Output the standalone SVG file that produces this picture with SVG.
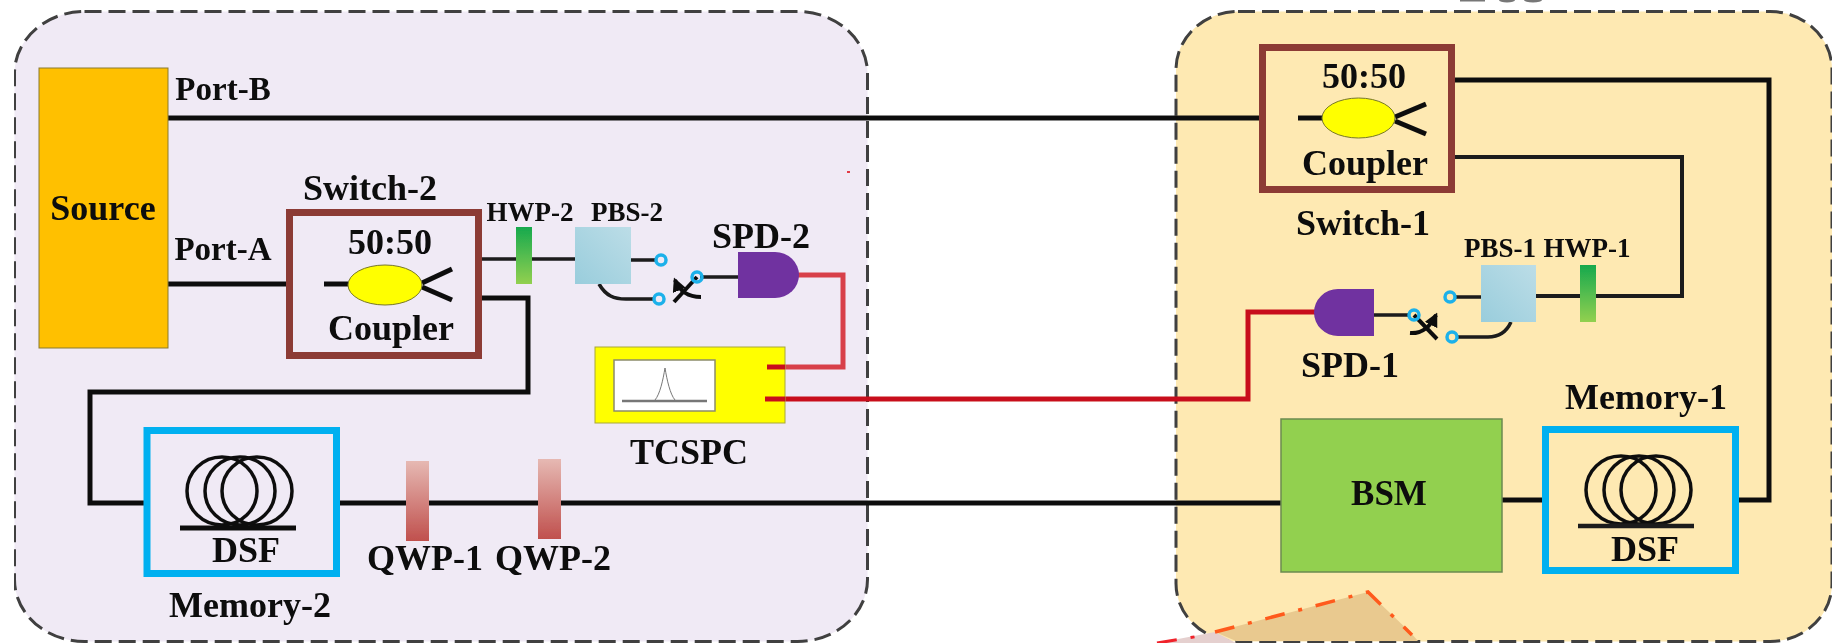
<svg xmlns="http://www.w3.org/2000/svg" width="1834" height="643" viewBox="0 0 1834 643">
<style>
text{font-family:"Liberation Serif","Times New Roman",serif;font-weight:bold;fill:#0a0a0a;font-size:36px;text-anchor:middle}
.s{font-size:27px}
.region{stroke:#3f3f3f;stroke-width:3;stroke-dasharray:17 7}
.fib{fill:none;stroke:#111;stroke-width:5;stroke-linejoin:miter}
.fin{fill:none;stroke:#1a1a1a;stroke-width:3.5}
.x{fill:none;stroke:#111;stroke-width:4}
.red{fill:none;stroke:#c8101a;stroke-width:5}
.sw{fill:none;stroke:#8c3a36;stroke-width:7}
.mem{fill:none;stroke:#00b0f0;stroke-width:7}
.coil{fill:none;stroke:#111;stroke-width:3.5}
.port{fill:none;stroke:#1fb1ea;stroke-width:3.5}
.hwp{fill:url(#gh)}
.qwp{fill:url(#gq)}
.pbs{fill:url(#gp)}
.spd{fill:#7030a0}
.cp{fill:#ffff00;stroke:#a8a838;stroke-width:1}
</style>
<defs>
<linearGradient id="gh" x1="0" y1="0" x2="0" y2="1"><stop offset="0" stop-color="#16a94e"/><stop offset="1" stop-color="#92d050"/></linearGradient>
<linearGradient id="gq" x1="0" y1="0" x2="0" y2="1"><stop offset="0" stop-color="#e6b9b3"/><stop offset="1" stop-color="#c0504d"/></linearGradient>
<linearGradient id="gp" x1="0" y1="1" x2="1" y2="0"><stop offset="0" stop-color="#99cddc"/><stop offset="1" stop-color="#bcdde7"/></linearGradient>
<marker id="ah" viewBox="0 0 10 10" refX="8" refY="5" markerWidth="3.500" markerHeight="3.500" orient="auto-start-reverse"><path d="M0 0L10 5L0 10Z" fill="#111"/></marker>
<filter id="soft" x="0" y="0" width="100%" height="100%"><feGaussianBlur stdDeviation="0.7"/></filter>
</defs>
<rect width="1834" height="643" fill="#fff"/>
<g filter="url(#soft)">
<g id="clipped-title" fill="#777"><rect x="1460" y="0" width="25" height="1.500"/><ellipse cx="1507" cy="0" rx="8" ry="2.500"/><ellipse cx="1533" cy="0" rx="9" ry="2.500"/></g>
<g id="region-left"><rect class="region" x="14.5" y="11.5" width="853" height="630" rx="70" ry="62" fill="#f0eaf5"/></g>
<g id="region-right"><rect class="region" x="1176" y="11.5" width="656" height="630" rx="62" ry="58" fill="#fee9b2"/></g>
<g id="region-link">
<polygon points="1157,643 1215,632 1236,643" fill="#e5d0cf"/>
<polygon points="1215,632 1368,592 1411,633 1418,641 1236,641" fill="#e9c98f"/>
<path d="M1215 632L1368 592L1412 635" fill="none" stroke="#ff5a1c" stroke-width="3.5" stroke-dasharray="20 14 4 14"/>
<path d="M1157 643L1200 636" fill="none" stroke="#f0202a" stroke-width="3" stroke-dasharray="20 14 4 14"/>
<rect x="847" y="171" width="3" height="2" fill="#e23a44"/>
</g>
<g id="connectors">
<path class="fib" d="M168 118H1259"/>
<path class="fib" d="M168 284H286"/>
<path class="fib" d="M482 298H528V392H90V503H144"/>
<path class="fib" d="M340 503H1281"/>
<path class="fib" d="M1502 500H1546"/>
<path class="fib" d="M1455 80H1769V500H1735"/>
<path class="fin" d="M1455 157H1682V296H1536" style="stroke-width:4"/>
<path class="fin" d="M482 259H575"/>
<path class="fin" d="M631 260H657"/>
<path class="fin" d="M599 284C606 296 614 299 626 299H655"/>
<path class="fin" d="M700 277H742"/>
<path class="fin" d="M1481 297H1455"/>
<path class="fin" d="M1511 322C1506 333 1498 337 1488 337H1457"/>
<path class="fin" d="M1372 315H1410"/>
<path d="M797 275H843V367H767" fill="none" stroke="#d8404a" stroke-width="5"/>
<path class="red" d="M765 399H1248V312H1316"/>
<path class="x" d="M674 302L697 277"/>
<path class="x" d="M701 297C688 297 680 292 675 280" marker-end="url(#ah)"/>
<path class="x" d="M1414 315L1437 339"/>
<path class="x" d="M1410 333C1424 334 1431 325 1436 315" marker-end="url(#ah)"/>
</g>
<g id="source"><rect x="39" y="68" width="129" height="280" fill="#ffc000" stroke="#8a7a30" stroke-width="1"/><text x="103" y="220">Source</text></g>
<g id="port-labels"><text x="223" y="100" style="font-size:33px">Port-B</text><text x="223" y="260" style="font-size:33px">Port-A</text></g>
<g id="switch-2">
<rect class="sw" x="289.5" y="212.5" width="189" height="143"/>
<text x="370" y="200">Switch-2</text><text x="390" y="254">50:50</text><text x="391" y="340">Coupler</text>
<path class="fib" d="M324 284H348M422 283L452 269M422 287L452 300"/>
<ellipse cx="385" cy="285" rx="37" ry="20" fill="#ffff00" stroke="#77772a" stroke-width="1"/>
</g>
<g id="hwp-2"><rect class="hwp" x="516" y="227" width="16" height="57"/><text class="s" x="530" y="221">HWP-2</text></g>
<g id="pbs-2"><rect class="pbs" x="575" y="227" width="56" height="57"/><text class="s" x="627" y="221">PBS-2</text></g>
<g id="switch-ports-2"><circle class="port" cx="661" cy="260" r="5"/><circle class="port" cx="659" cy="299" r="5"/><circle class="port" cx="697" cy="277" r="5"/></g>
<g id="spd-2"><path class="spd" d="M738 252H775A24 23 0 0 1 775 298H738Z"/><text x="761" y="248">SPD-2</text></g>
<g id="tcspc">
<rect class="cp" x="595" y="347" width="190" height="76"/>
<rect x="614" y="360" width="101" height="51" fill="#fff" stroke="#8c8c6a" stroke-width="1.5"/>
<path d="M622 401H707" stroke="#777" stroke-width="2.5" fill="none"/>
<path d="M655 400C660 394 663 380 665 368C667 380 670 394 675 400" stroke="#777" stroke-width="1" fill="none"/>
<text x="689" y="464">TCSPC</text>
<path d="M767 367H785" stroke="#c8101a" stroke-width="5"/>
<path d="M765 399H785" stroke="#c8101a" stroke-width="5"/>
</g>
<g id="memory-2">
<rect class="mem" x="147" y="430.5" width="189.500" height="143"/>
<ellipse class="coil" cx="222" cy="491" rx="35" ry="34"/><ellipse class="coil" cx="240" cy="491" rx="35" ry="34"/><ellipse class="coil" cx="257" cy="491" rx="35" ry="34"/>
<path class="fib" d="M180 528H296"/>
<text x="246" y="562">DSF</text><text x="250" y="617">Memory-2</text>
</g>
<g id="qwp-1"><rect class="qwp" x="406" y="461" width="23" height="80"/><text x="425" y="570">QWP-1</text></g>
<g id="qwp-2"><rect class="qwp" x="538" y="459" width="23" height="80"/><text x="553" y="570">QWP-2</text></g>
<g id="switch-1">
<rect class="sw" x="1262.500" y="47.500" width="189" height="142"/>
<text x="1364" y="88">50:50</text><text x="1365" y="175">Coupler</text><text x="1363" y="235">Switch-1</text>
<path class="fib" d="M1298 118H1322M1395 117L1426 104M1395 121L1426 134"/>
<ellipse cx="1358.500" cy="118" rx="36.500" ry="20" fill="#ffff00" stroke="#77772a" stroke-width="1"/>
</g>
<g id="hwp-1"><rect class="hwp" x="1580" y="265" width="16" height="57"/><text class="s" x="1587" y="257">HWP-1</text></g>
<g id="pbs-1"><rect class="pbs" x="1481" y="265" width="55" height="57"/><text class="s" x="1500" y="257">PBS-1</text></g>
<g id="switch-ports-1"><circle class="port" cx="1450" cy="297" r="5"/><circle class="port" cx="1452" cy="337" r="5"/><circle class="port" cx="1414" cy="315" r="5"/></g>
<g id="spd-1"><path class="spd" d="M1374 289H1338A24 23.500 0 0 0 1338 336H1374Z"/><text x="1350" y="377">SPD-1</text></g>
<g id="bsm"><rect x="1281" y="419" width="221" height="153" fill="#92d050" stroke="#6b8a50" stroke-width="1.500"/><text x="1389" y="505" style="font-size:35px">BSM</text></g>
<g id="memory-1">
<rect class="mem" x="1545.500" y="429.500" width="190" height="141"/>
<ellipse class="coil" cx="1621" cy="490" rx="35" ry="34"/><ellipse class="coil" cx="1639" cy="490" rx="35" ry="34"/><ellipse class="coil" cx="1656" cy="490" rx="35" ry="34"/>
<path class="fin" d="M1578 526H1694" style="stroke-width:4.500"/>
<text x="1645" y="561">DSF</text><text x="1646" y="409">Memory-1</text>
</g>
</g>
</svg>
